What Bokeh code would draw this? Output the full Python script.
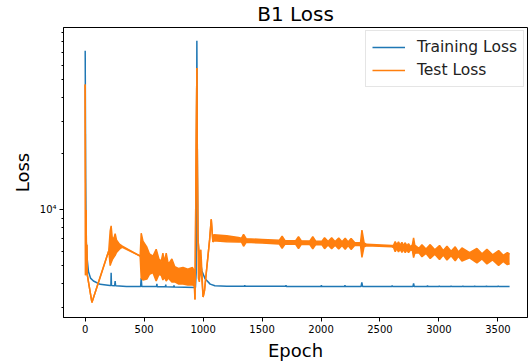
from bokeh.plotting import figure
from bokeh.models import FixedTicker, Legend, LegendItem, Range1d
from bokeh.embed import file_html
from bokeh.resources import INLINE

# ---- data ----
train_epoch = [0, 4, 8, 15, 28, 45, 70, 127,
               210, 218, 220, 223, 250, 254, 258, 350,
               470, 475, 480, 605, 608, 611, 680, 683, 686, 750, 753, 756,
               935, 941, 947, 951, 955, 962, 990, 1017, 1060, 1100, 1200,
               1350, 1353, 1356, 1700, 1703, 1706, 2000, 2003, 2006,
               2200, 2203, 2206, 2340, 2346, 2352, 2600, 2603, 2606,
               2780, 2785, 2790, 2900, 2903, 2906, 3000, 3003, 3006,
               3100, 3103, 3106, 3200, 3203, 3206, 3300, 3303, 3306,
               3400, 3403, 3406, 3500, 3503, 3506, 3599]
train_loss = [71700, 15000, 7000, 5600, 4650, 4300, 4150, 3980,
              3920, 3920, 4600, 3920, 3910, 4150, 3910, 3880,
              3870, 4300, 3870, 3870, 4000, 3860, 3860, 3960, 3860, 3850, 3930, 3850,
              3830, 4600, 81100, 20000, 7500, 6000, 4700, 4260, 3990, 3910, 3890,
              3890, 3940, 3885, 3885, 3935, 3880, 3880, 3930, 3880,
              3880, 3930, 3880, 3880, 4080, 3880, 3875, 3920, 3875,
              3875, 4030, 3875, 3875, 3920, 3875, 3872, 3915, 3872,
              3872, 3915, 3872, 3870, 3915, 3870, 3870, 3915, 3870,
              3870, 3915, 3870, 3870, 3915, 3870, 3870]

# test loss: lower and upper envelope of the oscillating curve
test_epoch = [0, 3, 8, 11, 14, 17, 57, 200,
              212, 220, 230, 245, 254, 265, 290, 315, 466,
              475, 490, 523, 545, 575, 602, 625, 645, 659, 672, 687, 705,
              735, 760, 790, 830, 870, 910, 925, 931,
              947, 952, 956, 960, 968, 981, 1000, 1012, 1032, 1055, 1069, 1083,
              1090, 1200, 1300, 1325, 1343, 1365, 1500, 1645, 1670, 1695,
              1785, 1809, 1833, 1905, 1930, 1955, 2008, 2030, 2060, 2090,
              2120, 2150, 2178, 2205, 2230, 2255, 2285, 2335, 2347, 2365,
              2385, 2600, 2615, 2629, 2643, 2657, 2671, 2686, 2700, 2714,
              2728, 2742, 2760, 2775, 2785, 2795, 2830, 2856, 2890, 2926,
              2965, 3005, 3037, 3068, 3103, 3138, 3165, 3195, 3260, 3322,
              3365, 3407, 3455, 3506, 3545, 3580, 3599]
test_low = [47200, 4450, 10000, 4700, 6500, 4500, 3180, 6040,
            5018, 5207, 5400, 5600, 5700, 5900, 6150, 6300, 5650,
            4300, 4200, 4250, 4500, 4600, 4150, 4500, 4450, 4200, 4350, 4150, 4300,
            4100, 4100, 4000, 4000, 3950, 3950, 3900, 3300,
            58000, 15000, 7000, 4300, 4100, 5000, 3400, 3700, 4950, 6900, 8900, 6720,
            6827, 6744, 6727, 6735, 6380, 6702, 6636, 6564, 6225, 6548,
            6532, 6202, 6523, 6515, 6187, 6507, 6491, 6195, 6475, 6179,
            6460, 6164, 6444, 6149, 6428, 6134, 6436, 6428, 5560, 6341,
            6420, 6333, 6287, 5969, 6187, 5947, 6156, 5918, 6126, 5889,
            6096, 5896, 6104, 6036, 5538, 5853, 5890, 5600, 5840, 5477,
            5782, 5416, 5726, 5376, 5676, 5324, 5628, 5318, 5530, 5185,
            5456, 5123, 5390, 5030, 5290, 5081, 5139]
test_high = [47200, 4450, 10000, 4700, 6500, 4500, 3180, 6040,
             7722, 8212, 7000, 7100, 7450, 6900, 6550, 6380, 5650,
             7500, 6800, 6300, 5800, 5650, 6150, 5450, 5300, 5850, 5250, 5850, 5100,
             5450, 4950, 4850, 4900, 4800, 4900, 4700, 3300,
             58000, 15000, 7000, 6600, 5800, 6100, 3400, 3700, 4950, 6900, 8900, 6720,
             7351, 7261, 7102, 7041, 7396, 7006, 6937, 6861, 7216, 6844,
             6827, 7190, 6819, 6810, 7172, 6802, 6785, 7093, 6769, 7076,
             6752, 7058, 6735, 7041, 6718, 7023, 6677, 6669, 7800, 6661,
             6530, 6436, 6444, 6752, 6499, 6735, 6467, 6694, 6436, 6661,
             6404, 6588, 6333, 6499, 7085, 6460, 6217, 6491, 6163, 6507,
             6103, 6436, 6044, 6388, 5991, 6333, 5940, 6241, 5890, 6210,
             5810, 6134, 5740, 6051, 5700, 5889, 5796]

x_ticks = [0, 500, 1000, 1500, 2000, 2500, 3000, 3500]
y_major_ticks = [10000]
y_minor_ticks = [3000, 4000, 5000, 6000, 7000, 8000, 9000,
                 20000, 30000, 40000, 50000, 60000, 70000, 80000, 90000]
y_tick_labels = {10000: "10\u2074"}

BLUE = "#1f77b4"
ORANGE = "#ff7f0e"
FONT = "DejaVu Sans"

p = figure(width=529, height=364, y_axis_type="log",
           x_range=Range1d(-184, 3751), y_range=Range1d(2640, 95700),
           output_backend="svg", toolbar_location=None,
           min_border_left=63, min_border_right=2,
           min_border_top=27, min_border_bottom=47)

p.title.text = "B1 Loss"
p.title.align = "center"
p.title.vertical_align = "top"
p.title.text_font = FONT
p.title.text_font_size = "20px"
p.title.text_font_style = "normal"
p.title.text_color = "black"
p.title.standoff = 0

p.xgrid.visible = False
p.ygrid.visible = False
p.outline_line_color = "black"
p.outline_line_width = 1
p.outline_line_alpha = 1

p.xaxis.ticker = FixedTicker(ticks=x_ticks)
p.yaxis.ticker = FixedTicker(ticks=y_major_ticks, minor_ticks=y_minor_ticks)
p.yaxis.major_label_overrides = y_tick_labels

for ax in (p.xaxis, p.yaxis):
    ax.axis_line_color = "black"
    ax.major_tick_in = 0
    ax.major_tick_out = 4
    ax.minor_tick_in = 0
    ax.minor_tick_out = 2
    ax.major_tick_line_color = "black"
    ax.minor_tick_line_color = "black"
    ax.major_label_text_font = FONT
    ax.major_label_text_font_size = "10px"
    ax.major_label_text_color = "black"
    ax.axis_label_text_font = FONT
    ax.axis_label_text_font_size = "18px"
    ax.axis_label_text_font_style = "normal"
    ax.axis_label_text_color = "black"
    ax.major_label_standoff = 3
    ax.axis_label_standoff = 4

p.xaxis.axis_label = "Epoch"
p.yaxis.axis_label = "Loss"

r_train = p.line(train_epoch, train_loss, line_color=BLUE, line_width=1.5)
p.varea(x=test_epoch, y1=test_low, y2=test_high, fill_color=ORANGE)
r_test = p.line(test_epoch, test_high, line_color=ORANGE, line_width=1.5)
p.line(test_epoch, test_low, line_color=ORANGE, line_width=1.5)

legend = Legend(items=[LegendItem(label="Training Loss", renderers=[r_train]),
                       LegendItem(label="Test Loss", renderers=[r_test])],
                location=(302, 230))
legend.label_text_font = FONT
legend.label_text_font_size = "15.5px"
legend.label_text_color = "#222222"
legend.glyph_width = 33
legend.label_standoff = 12
legend.padding = 6
legend.spacing = 3
legend.label_height = 20
legend.glyph_height = 20
legend.border_line_color = "#cccccc"
legend.background_fill_alpha = 0.8
p.add_layout(legend, "center")

open("out.html", "w").write(file_html(p, INLINE))
